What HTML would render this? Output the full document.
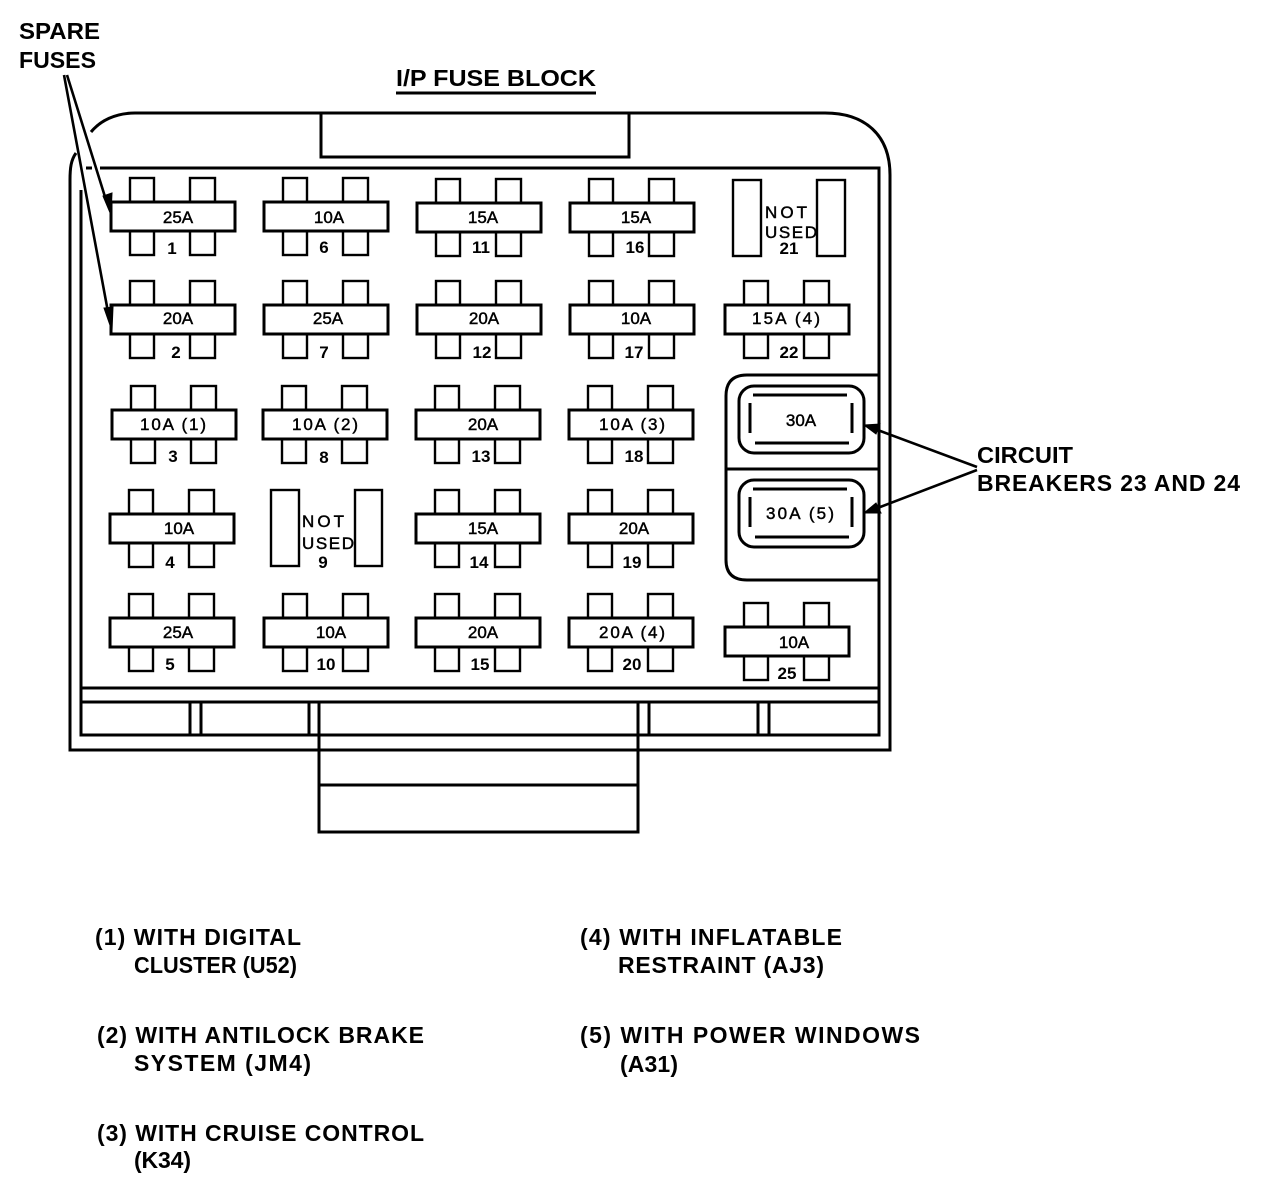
<!DOCTYPE html>
<html><head><meta charset="utf-8"><style>
html,body{margin:0;padding:0;background:#fff}
svg{display:block}
text{font-family:"Liberation Sans",sans-serif;fill:#000}
.b{font-size:23px;font-weight:bold}
.f{font-size:17px;text-anchor:middle;stroke:#000;stroke-width:.45}
.n{font-size:17px;font-weight:bold;text-anchor:middle}
.l{fill:none;stroke:#000;stroke-width:3}
.t{fill:none;stroke:#000;stroke-width:2.4}
</style></head><body>
<svg width="1280" height="1194" viewBox="0 0 1280 1194" xmlns="http://www.w3.org/2000/svg">
<defs>
<g id="fz">
<rect class="t" x="19" y="-24" width="24" height="24" fill="#fff"/>
<rect class="t" x="79" y="-24" width="25" height="24"/>
<rect class="t" x="19" y="29" width="24" height="24"/>
<rect class="t" x="79" y="29" width="25" height="24"/>
<rect class="l" x="0" y="0" width="124" height="29" fill="#fff"/>
</g>
</defs>
<!-- case -->
<path class="l" d="M76 153C71 160 70 168 70 180V750H890V175C890 135 865 113 825 113H135C115 113 100 121 91 132"/>
<path class="l" d="M100 168H879V735H81V190M86 168H92"/>
<path class="l" d="M321 113V157H629V113"/>
<path class="l" d="M81 688H879M81 702H879"/>
<path class="l" d="M190 702V735M201 702V735M309 702V735M319 702V735M638 702V735M649 702V735M758 702V735M769 702V735"/>
<path class="l" d="M319 735V832H638V735M319 785H638"/>
<!-- fuses -->
<use href="#fz" x="111" y="202"/><use href="#fz" x="264" y="202"/><use href="#fz" x="417" y="203"/><use href="#fz" x="570" y="203"/>
<use href="#fz" x="111" y="305"/><use href="#fz" x="264" y="305"/><use href="#fz" x="417" y="305"/><use href="#fz" x="570" y="305"/><use href="#fz" x="725" y="305"/>
<use href="#fz" x="112" y="410"/><use href="#fz" x="263" y="410"/><use href="#fz" x="416" y="410"/><use href="#fz" x="569" y="410"/>
<use href="#fz" x="110" y="514"/><use href="#fz" x="416" y="514"/><use href="#fz" x="569" y="514"/>
<use href="#fz" x="110" y="618"/><use href="#fz" x="264" y="618"/><use href="#fz" x="416" y="618"/><use href="#fz" x="569" y="618"/><use href="#fz" x="725" y="627"/>
<!-- not used -->
<rect class="t" x="733" y="180" width="28" height="76"/><rect class="t" x="817" y="180" width="28" height="76"/>
<rect class="t" x="271" y="490" width="28" height="76"/><rect class="t" x="355" y="490" width="27" height="76"/>
<!-- breakers -->
<path class="l" d="M879 375H747Q726 375 726 396V560Q726 580 747 580H879M726 469H879"/>
<rect class="l" x="739" y="386" width="125" height="67" rx="15"/>
<rect class="l" x="739" y="480" width="125" height="67" rx="15"/>
<path class="l" d="M753 395H847M755 443H849M750 403V433M852 403V433M753 489H847M755 537H849M750 497V527M852 497V527"/>
<!-- arrows -->
<path d="M67 75L106 200M64 75L108 312M977 467L875 429M977 470L875 509" fill="none" stroke="#000" stroke-width="2.6"/>
<path d="M111 215L103 196L112 193ZM112 331L104 308L113 307ZM864 425L880 424L876 434ZM864 513L876 503L881 513Z" fill="#000" stroke="#000"/>
<!-- fuse labels -->
<g>
<text class="f" x="178" y="223">25A</text><text class="f" x="329" y="223">10A</text><text class="f" x="483" y="223">15A</text><text class="f" x="636" y="223">15A</text>
<text class="f" x="178" y="324">20A</text><text class="f" x="328" y="324">25A</text><text class="f" x="484" y="324">20A</text><text class="f" x="636" y="324">10A</text><text class="f" x="786" y="324" textLength="68" lengthAdjust="spacing">15A (4)</text>
<text class="f" x="173" y="430" textLength="66" lengthAdjust="spacing">10A (1)</text><text class="f" x="325" y="430" textLength="66" lengthAdjust="spacing">10A (2)</text><text class="f" x="483" y="430">20A</text><text class="f" x="632" y="430" textLength="66" lengthAdjust="spacing">10A (3)</text>
<text class="f" x="179" y="534">10A</text><text class="f" x="483" y="534">15A</text><text class="f" x="634" y="534">20A</text>
<text class="f" x="178" y="638">25A</text><text class="f" x="331" y="638">10A</text><text class="f" x="483" y="638">20A</text><text class="f" x="632" y="638" textLength="66" lengthAdjust="spacing">20A (4)</text><text class="f" x="794" y="648">10A</text>
<text class="f" x="801" y="426">30A</text><text class="f" x="800" y="519" textLength="68" lengthAdjust="spacing">30A (5)</text>
<text class="n" x="172" y="254">1</text><text class="n" x="324" y="253">6</text><text class="n" x="481" y="253">11</text><text class="n" x="635" y="253">16</text>
<text class="n" x="176" y="358">2</text><text class="n" x="324" y="358">7</text><text class="n" x="482" y="358">12</text><text class="n" x="634" y="358">17</text><text class="n" x="789" y="358">22</text>
<text class="n" x="173" y="462">3</text><text class="n" x="324" y="463">8</text><text class="n" x="481" y="462">13</text><text class="n" x="634" y="462">18</text>
<text class="n" x="170" y="568">4</text><text class="n" x="323" y="568">9</text><text class="n" x="479" y="568">14</text><text class="n" x="632" y="568">19</text>
<text class="n" x="170" y="670">5</text><text class="n" x="326" y="670">10</text><text class="n" x="480" y="670">15</text><text class="n" x="632" y="670">20</text><text class="n" x="787" y="679">25</text>
<text class="f" x="786" y="218" textLength="42" lengthAdjust="spacing">NOT</text><text class="f" x="791" y="238" textLength="52" lengthAdjust="spacing">USED</text><text class="n" x="789" y="254">21</text>
<text class="f" x="323" y="527" textLength="42" lengthAdjust="spacing">NOT</text><text class="f" x="328" y="549" textLength="52" lengthAdjust="spacing">USED</text>
</g>
<!-- headings -->
<text class="b" x="396" y="86" textLength="200" lengthAdjust="spacingAndGlyphs">I/P FUSE BLOCK</text>
<path class="l" d="M396 93H596"/>
<text class="b" x="19" y="39" textLength="81" lengthAdjust="spacingAndGlyphs">SPARE</text>
<text class="b" x="19" y="68" textLength="77" lengthAdjust="spacingAndGlyphs">FUSES</text>
<text class="b" x="977" y="463" textLength="96" lengthAdjust="spacingAndGlyphs">CIRCUIT</text>
<text class="b" x="977" y="491" textLength="263" lengthAdjust="spacing">BREAKERS 23 AND 24</text>
<!-- notes -->
<text class="b" x="95" y="945" textLength="206" lengthAdjust="spacing">(1) WITH DIGITAL</text>
<text class="b" x="134" y="973" textLength="163" lengthAdjust="spacingAndGlyphs">CLUSTER (U52)</text>
<text class="b" x="97" y="1043" textLength="327" lengthAdjust="spacing">(2) WITH ANTILOCK BRAKE</text>
<text class="b" x="134" y="1071" textLength="177" lengthAdjust="spacing">SYSTEM (JM4)</text>
<text class="b" x="97" y="1141" textLength="327" lengthAdjust="spacing">(3) WITH CRUISE CONTROL</text>
<text class="b" x="134" y="1168" textLength="57" lengthAdjust="spacing">(K34)</text>
<text class="b" x="580" y="945" textLength="262" lengthAdjust="spacing">(4) WITH INFLATABLE</text>
<text class="b" x="618" y="973" textLength="206" lengthAdjust="spacing">RESTRAINT (AJ3)</text>
<text class="b" x="580" y="1043" textLength="340" lengthAdjust="spacing">(5) WITH POWER WINDOWS</text>
<text class="b" x="620" y="1072" textLength="58" lengthAdjust="spacing">(A31)</text>
</svg>
</body></html>
